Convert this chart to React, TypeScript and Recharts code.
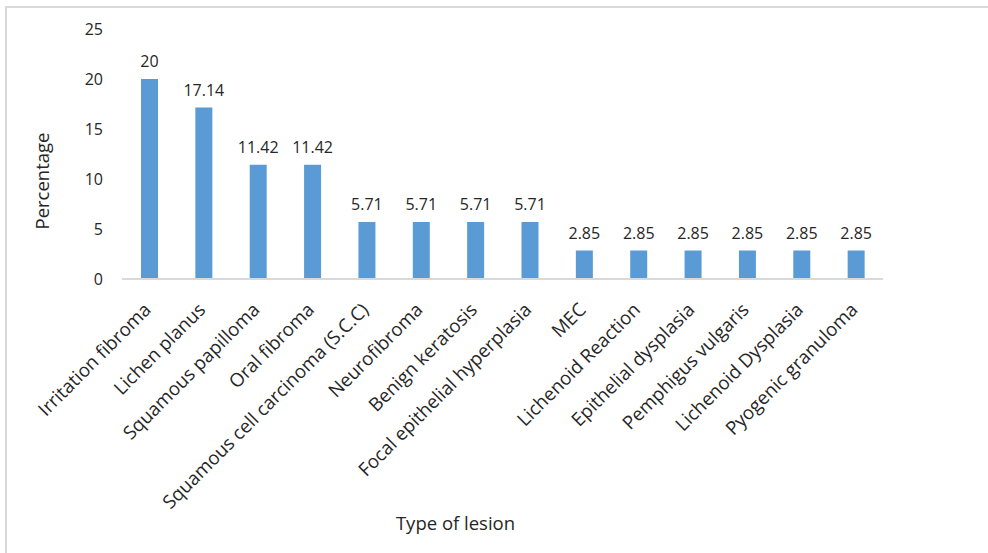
import { BarChart, Bar, XAxis, YAxis, LabelList, Label } from "recharts"

const lesions = [
  "Irritation fibroma",
  "Lichen planus",
  "Squamous papilloma",
  "Oral fibroma",
  "Squamous cell carcinoma (S.C.C)",
  "Neurofibroma",
  "Benign keratosis",
  "Focal epithelial hyperplasia",
  "MEC",
  "Lichenoid Reaction",
  "Epithelial dysplasia",
  "Pemphigus vulgaris",
  "Lichenoid Dysplasia",
  "Pyogenic granuloma",
]

const percentages = [20, 17.14, 11.42, 11.42, 5.71, 5.71, 5.71, 5.71, 2.85, 2.85, 2.85, 2.85, 2.85, 2.85]

const yTicks = [0, 5, 10, 15, 20, 25]

const data = lesions.map((name, i) => ({ name, value: percentages[i] }))

const FONT = "'Open Sans', sans-serif"
const TEXT = "#262626"

// rotated category label, end anchored near the tick
const AngledTick = (props: any) => {
  const { x, y, payload } = props
  return (
    <g transform={`translate(${x + 3},${y + 24})`}>
      <text
        x={0}
        y={0}
        textAnchor="end"
        transform="rotate(-45)"
        fontSize={18.7}
        fontFamily={FONT}
        fill={TEXT}
      >
        {payload.value}
      </text>
    </g>
  )
}

export default function App() {
  return (
    <div
      style={{
        position: "absolute",
        left: 0,
        top: 0,
        width: 988,
        height: 553,
        background: "#fff",
        fontFamily: FONT,
      }}
    >
      <svg
        width={988}
        height={553}
        style={{ position: "absolute", left: 0, top: 0 }}
      >
        <path d="M6,553 V7 H988" fill="none" stroke="#d9d9d9" strokeWidth={2} />
      </svg>
      <div style={{ position: "absolute", left: 0, top: 0 }}>
        <BarChart
          width={988}
          height={553}
          data={data}
          margin={{ top: 29, right: 105, left: 0, bottom: 0 }}
        >
          <XAxis
            dataKey="name"
            interval={0}
            tick={<AngledTick />}
            tickLine={false}
            axisLine={{ stroke: "#d9d9d9", strokeWidth: 2 }}
            height={274}
          >
            <Label
              content={(p: any) => {
                const vb = p.viewBox
                return (
                  <text
                    x={vb.x + vb.width / 2 - 47}
                    y={vb.y + 251}
                    textAnchor="middle"
                    fontSize={18.5}
                    fontFamily={FONT}
                    fill={TEXT}
                  >
                    Type of lesion
                  </text>
                )
              }}
            />
          </XAxis>
          <YAxis
            domain={[0, 25]}
            ticks={yTicks}
            width={122}
            axisLine={false}
            tickLine={false}
            tickSize={0}
            tickMargin={19}
            tick={{ fontSize: 16, fontFamily: FONT, fill: TEXT }}
          >
            <Label
              content={(p: any) => {
                const vb = p.viewBox
                const cx = vb.x + 41
                const cy = vb.y + vb.height / 2 + 27
                return (
                  <text
                    x={cx}
                    y={cy}
                    textAnchor="middle"
                    dominantBaseline="central"
                    transform={`rotate(-90, ${cx}, ${cy})`}
                    fontSize={18.5}
                    fontFamily={FONT}
                    fill={TEXT}
                  >
                    Percentage
                  </text>
                )
              }}
            />
          </YAxis>
          <Bar dataKey="value" fill="#5b9bd5" barSize={17} isAnimationActive={false}>
            <LabelList
              dataKey="value"
              position="top"
              offset={12}
              fontSize={16}
              fontFamily={FONT}
              fill={TEXT}
            />
          </Bar>
        </BarChart>
      </div>
    </div>
  )
}
